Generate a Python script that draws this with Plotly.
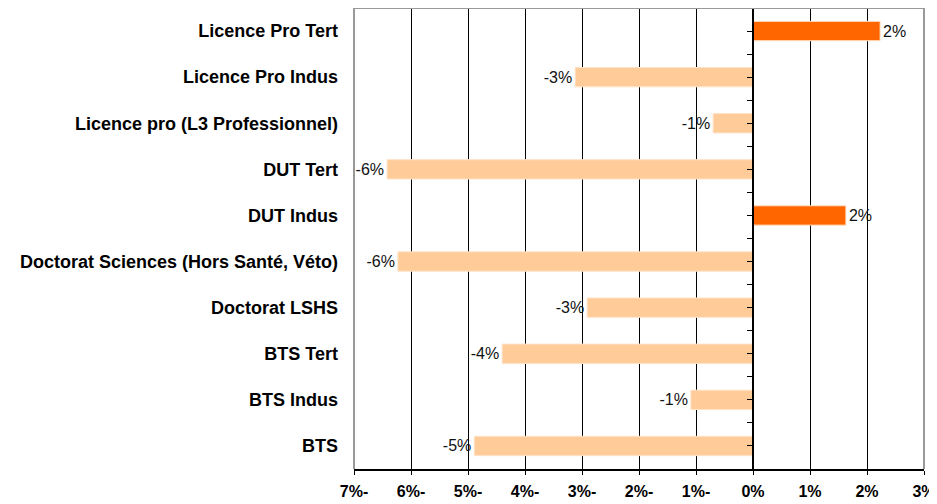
import plotly.graph_objects as go

categories = [
    "Licence Pro Tert",
    "Licence Pro Indus",
    "Licence pro (L3 Professionnel)",
    "DUT Tert",
    "DUT Indus",
    "Doctorat Sciences (Hors Santé, Véto)",
    "Doctorat LSHS",
    "BTS Tert",
    "BTS Indus",
    "BTS",
]
values = [2.23, -3.12, -0.70, -6.42, 1.63, -6.23, -2.91, -4.40, -1.09, -4.89]
tick_vals = [-7, -6, -5, -4, -3, -2, -1, 0, 1, 2, 3]
tick_text = ["7%-", "6%-", "5%-", "4%-", "3%-", "2%-", "1%-", "0%", "1%", "2%", "3%"]

colors = ["#FF6600" if v > 0 else "#FFCC99" for v in values]
labels = [f"{round(v):d}%" for v in values]

fig = go.Figure()
fig.add_trace(go.Bar(
    y=categories, x=values, orientation="h",
    marker=dict(color=colors, line=dict(color="#FFE3C8", width=1)),
    width=0.42,
    text=labels, textposition="outside",
    textfont=dict(family="Liberation Sans Narrow, Arial Narrow, Liberation Sans", size=16, color="#111111"),
    cliponaxis=False,
    showlegend=False,
    hoverinfo="skip",
))
# invisible helper trace for the zero-line axis with small ticks
fig.add_trace(go.Scatter(x=[0], y=[0], yaxis="y2", mode="markers",
                         marker=dict(opacity=0), showlegend=False, hoverinfo="skip"))

# the page body has an 8px default margin, so the figure is offset by 8px
fig.update_layout(
    width=929, height=496,
    margin=dict(l=346, r=13, t=0, b=35, autoexpand=False),
    plot_bgcolor="white", paper_bgcolor="white",
    bargap=0.5,
    font=dict(family="Liberation Sans, Arial", color="#000000"),
    xaxis=dict(
        range=[-7, 3], tickvals=tick_vals, ticktext=tick_text,
        showgrid=True, gridcolor="#000000", gridwidth=1,
        zeroline=False, automargin=False,
        showline=True, linecolor="#000000", linewidth=1.5,
        ticks="outside", ticklen=4, tickcolor="#000000",
        ticklabelstandoff=3, ticklabeloverflow="allow",
        tickfont=dict(size=16, weight="bold", family="Liberation Sans, Arial"),
        fixedrange=True,
    ),
    yaxis=dict(
        categoryorder="array", categoryarray=categories,
        autorange="reversed", automargin=False,
        showgrid=False, showline=False, zeroline=False,
        ticks="", ticklabelstandoff=15,
        tickfont=dict(size=18, weight="bold", family="Liberation Sans, Arial"),
    ),
    yaxis2=dict(
        overlaying="y", anchor="free", position=0.7, side="left",
        range=[9.5, -0.5], dtick=0.5, tick0=-0.5, automargin=False,
        showticklabels=False, showgrid=False, zeroline=False,
        showline=True, linecolor="#000000", linewidth=1.5,
        ticks="outside", ticklen=5, tickcolor="#000000",
    ),
    shapes=[
        dict(type="line", xref="paper", yref="paper", x0=0, x1=0, y0=0, y1=1,
             line=dict(color="#999999", width=2)),
        dict(type="line", xref="paper", yref="paper", x0=1, x1=1, y0=0, y1=1,
             line=dict(color="#999999", width=2)),
        dict(type="line", xref="paper", yref="paper", x0=0, x1=1, y0=1, y1=1,
             line=dict(color="#999999", width=2)),
    ],
)

fig.write_html("out.html")
